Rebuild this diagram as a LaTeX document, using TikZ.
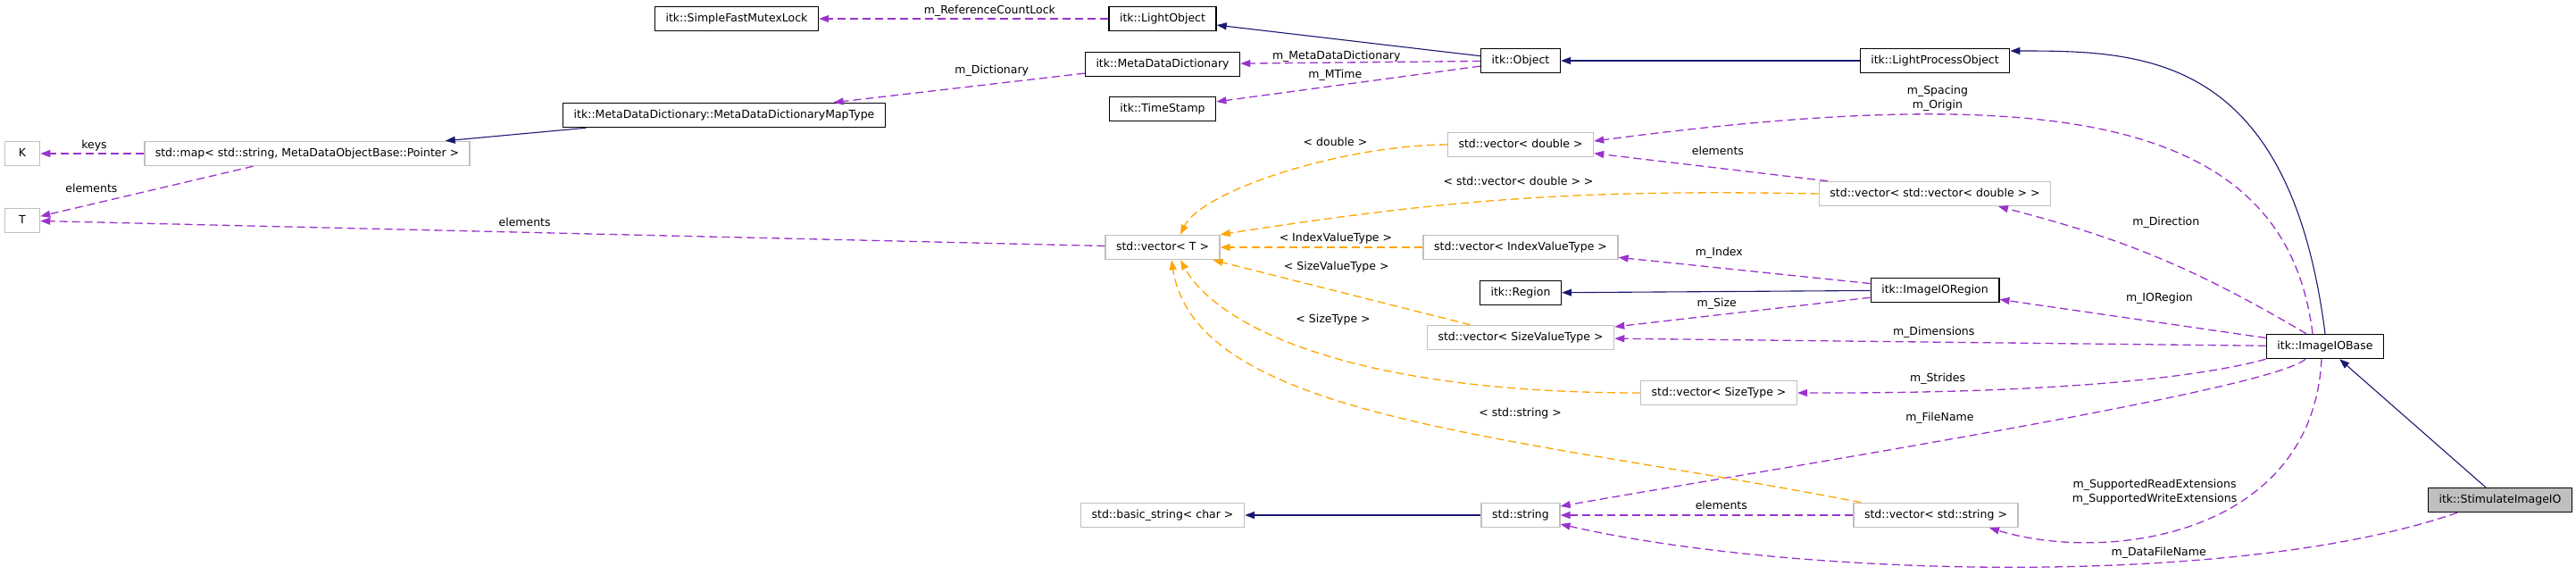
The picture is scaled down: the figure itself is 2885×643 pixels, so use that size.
\documentclass[tikz,border=0pt]{standalone}
\usepackage{fontspec}
\setmainfont{DejaVu Sans}
\usepackage{tikz}
\usetikzlibrary{positioning, arrows.meta}
\definecolor{navyedge}{HTML}{191970}
\definecolor{memberedge}{HTML}{9A32CD}
\definecolor{tmpledge}{HTML}{FFA500}
\definecolor{boxgray}{HTML}{BFBFBF}
\newcommand{\dxfont}{\fontsize{12.5}{16}\selectfont}

\begin{document}
\begin{tikzpicture}[
    x=1pt, y=-1pt,
    on grid,
    >={Triangle[length=11pt,width=8pt]},
    every node/.style={font=\dxfont},
    cls/.style={
      draw=black, line width=1.5pt, fill=white,
      minimum height=27pt, inner xsep=12pt, inner ysep=0pt,
      text height=9.5pt, text depth=2.7pt
    },
    extcls/.style={cls, draw=boxgray},
    focus/.style={cls, fill=boxgray},
    inherit/.style={->, draw=navyedge, line width=1.1pt},
    member/.style={->, draw=memberedge, line width=1.3pt, dash pattern=on 9pt off 5pt},
    tmpl/.style={->, draw=tmpledge, line width=1.3pt, dash pattern=on 9pt off 5pt},
    lbl/.style={on grid=false, inner sep=0pt, text height=9.5pt, text depth=3pt},
    lbltwo/.style={on grid=false, inner sep=0pt, align=center}
  ]
    \useasboundingbox (0,0) rectangle (2885,643);

    \node[extcls] at (1302,277)                         (vecT)      {std::vector< T >};
    \node[extcls, right=401pt of vecT]                  (vecidx)    {std::vector< IndexValueType >};
    \node[extcls, above=115pt of vecidx]                (vecdbl)    {std::vector< double >};
    \node[cls, above=94pt of vecdbl]                    (object)    {itk::Object};
    \node[cls, below=51pt of vecidx]                    (region)    {itk::Region};
    \node[extcls, below=50pt of region]                 (vecszv)    {std::vector< SizeValueType >};
    \node[extcls, below=199pt of vecszv]                (string)    {std::string};
    \node[extcls, left=401pt of string]                 (basicstr)  {std::basic\_string< char >};
    \node[extcls, below right=62pt and 222pt of vecszv] (vecsz)     {std::vector< SizeType >};

    \node[cls, above=205pt of vecT]                     (mdd)       {itk::MetaDataDictionary};
    \node[cls, above=51pt of mdd]                       (lightobj)  {itk::LightObject};
    \node[cls, above=155pt of vecT]                     (timestamp) {itk::TimeStamp};
    \node[cls, left=477pt of lightobj]                  (mutex)     {itk::SimpleFastMutexLock};
    \node[cls, below left=108pt and 491pt of lightobj]  (maptype)   {itk::MetaDataDictionary::MetaDataDictionaryMapType};
    \node[extcls, below left=43pt and 467pt of maptype] (stdmap)    {std::map< std::string, MetaDataObjectBase::Pointer >};
    \node[extcls, minimum width=39pt, left=319pt of stdmap] (keyK)  {K};
    \node[extcls, minimum width=39pt, below=75pt of keyK]   (elemT) {T};

    \node[cls, right=464pt of object]                   (lpo)       {itk::LightProcessObject};
    \node[extcls, below=149pt of lpo]                   (vecvec)    {std::vector< std::vector< double > >};
    \node[cls, below=108pt of vecvec]                   (ioregion)  {itk::ImageIORegion};
    \node[extcls, right=465pt of string]                (vecstr)    {std::vector< std::string >};
    \node[cls, below right=320pt and 437pt of lpo]      (iobase)    {itk::ImageIOBase};
    \node[focus, below right=172pt and 196pt of iobase] (stim)      {itk::StimulateImageIO};

    \path
      (object)   edge[inherit] (lightobj)
      (lpo)      edge[inherit] (object)
      (iobase.north) edge[inherit, controls={+(-40,-314) and +(150,0)}] ([yshift=11pt]lpo.east)
      (ioregion) edge[inherit] (region)
      (stim)     edge[inherit] (iobase)
      (string)   edge[inherit] (basicstr)
      (maptype)  edge[inherit] (stdmap);

    \path
      (lightobj) edge[member] node[lbl, pos=.41, above=2pt]  {m\_ReferenceCountLock} (mutex)
      (object)   edge[member] node[lbl, pos=.6, above=0pt]   {m\_MetaDataDictionary} (mdd)
      (object)   edge[member] node[lbl, pos=.55, above=5pt]  {m\_MTime}              (timestamp)
      (mdd)      edge[member] node[lbl, pos=.37, above=8pt]  {m\_Dictionary}         (maptype)
      (stdmap)   edge[member] node[lbl, pos=.48, above=2pt]  {keys}                  (keyK)
      (stdmap)   edge[member] node[lbl, pos=.76, above=10pt] {elements}              (elemT)
      (vecT)     edge[member] node[lbl, pos=.545, above=3pt] {elements}              (elemT)
      (vecvec)   edge[member] node[lbl, pos=.47, above=11pt] {elements}              (vecdbl)
      (vecstr)   edge[member] node[lbl, pos=.45, above=3pt]  {elements}              (string)
      (ioregion) edge[member] node[lbl, pos=.6, above=10pt]  {m\_Index}              (vecidx)
      (ioregion) edge[member] node[lbl, pos=.6, above=6pt]   {m\_Size}               (vecszv)
      (iobase)   edge[member] node[lbl, pos=.4, above=20pt]  {m\_IORegion}           (ioregion)
      (iobase)   edge[member] node[lbl, pos=.51, above=4pt]  {m\_Dimensions}         (vecszv)
      ([xshift=-14pt]iobase.north) edge[member, controls={+(-30,-244) and +(516,-68)}]
        node[lbltwo, pos=.71, above=3pt] {m\_Spacing\\m\_Origin} ([yshift=4pt]vecdbl.east)
      ([xshift=-21pt]iobase.north) edge[member, bend right=8]
        node[lbl, pos=.47, above=36pt] {m\_Direction} ([xshift=71pt]vecvec.south)
      (iobase.south west) edge[member, controls={+(-150,40) and +(63,0)}]
        node[lbl, pos=.62, above=7pt] {m\_Strides} (vecsz.east)
      ([xshift=-22pt]iobase.south) edge[member, controls={+(-40,35) and +(256,-45)}]
        node[lbl, pos=.57, above=19pt] {m\_FileName} ([yshift=10pt]string.east)
      ([xshift=-4pt]iobase.south) edge[member, controls={+(-10,198) and +(132,40)}]
        node[lbltwo, pos=.6, above=33pt] {m\_SupportedReadExtensions\\m\_SupportedWriteExtensions} ([xshift=60pt]vecstr.south)
      ([xshift=-48pt]stim.south) edge[member, controls={+(-252,87) and +(253,58)}]
        node[lbl, pos=.35, above=4pt] {m\_DataFileName} ([yshift=-10pt]string.east);

    \path
      (vecdbl.west) edge[tmpl, controls={+(-122,1) and +(23,-48)}]
        node[lbl, pos=.33, above=10pt] {< double >} ([xshift=20pt]vecT.north)
      (vecvec.west) edge[tmpl, bend right=5]
        node[lbl, pos=.5, above=12pt] {< std::vector< double > >} (vecT.north east)
      (vecidx) edge[tmpl] node[lbl, pos=.43, above=3pt]  {< IndexValueType >} (vecT)
      (vecszv) edge[tmpl] node[lbl, pos=.52, above=20pt] {< SizeValueType >}  (vecT)
      (vecsz.west) edge[tmpl, controls={+(-337,0) and +(38,69)}]
        node[lbl, pos=.45, above=35pt] {< SizeType >} ([xshift=20pt]vecT.south)
      ([xshift=9pt]vecstr.north west) edge[tmpl, controls={+(-385,-75) and +(28,179)}]
        node[lbl, pos=.35, above=26pt] {< std::string >} ([xshift=10pt]vecT.south);
  \end{tikzpicture}
\end{document}
